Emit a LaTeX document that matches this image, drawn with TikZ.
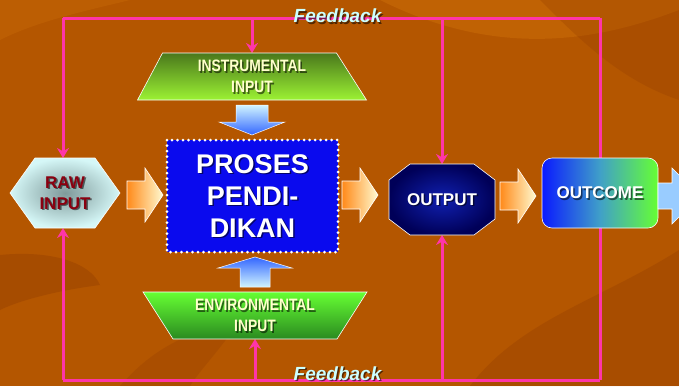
\documentclass[tikz,border=0pt]{standalone}
\usepackage{fontspec}
\setmainfont{Liberation Sans}
\newfontfamily\narrowfont[FakeStretch=0.84]{Liberation Sans}
\usetikzlibrary{arrows.meta,calc}
\definecolor{bg}{HTML}{B45600}
\definecolor{bgdark}{HTML}{8E3A00}
\definecolor{bglight}{HTML}{C86A08}
\definecolor{fbpink}{HTML}{FF35A8}
\definecolor{instrTop}{HTML}{4A781C}
\definecolor{instrBot}{HTML}{9CF233}
\definecolor{envTop}{HTML}{66FF33}
\definecolor{envBot}{HTML}{2A8A20}
\definecolor{prosesBlue}{HTML}{0A0AEE}
\definecolor{outOuter}{HTML}{000058}
\definecolor{outInner}{HTML}{1020B0}
\definecolor{ocLeft}{HTML}{0A1AFF}
\definecolor{ocMid}{HTML}{40A0C8}
\definecolor{ocRight}{HTML}{66FF33}
\definecolor{rawOuter}{HTML}{D5F7F7}
\definecolor{rawInner}{HTML}{7F9A9A}
\definecolor{orA}{HTML}{FF8A1A}
\definecolor{orB}{HTML}{FFFAD0}
\definecolor{blA}{HTML}{D0F4FF}
\definecolor{blB}{HTML}{3366FF}
\definecolor{lblue}{HTML}{99CCFF}
\definecolor{fbtext}{HTML}{CCFFFF}
\definecolor{cream}{HTML}{FFFFCC}
\definecolor{rawred}{HTML}{8A0010}
\begin{document}
\begin{tikzpicture}[x=1pt,y=-1pt,
  frame/.style={inner sep=0pt, outer sep=0pt},
  fb/.style={draw=fbpink, line width=3pt},
  fbarrow/.style={fb, -{Stealth[length=10pt,width=12pt]}},
  shadowtxt/.style={text=black, opacity=.55},
  bigtxt/.style={font=\fontsize{17}{21}\selectfont\bfseries, align=center},
  trapztxt/.style={font=\narrowfont\fontsize{16.5}{21}\selectfont\bfseries, align=center},
  fbtxt/.style={font=\fontsize{19}{22}\selectfont\bfseries\itshape}]
\useasboundingbox (0,0) rectangle (679,386);
\clip (0,0) rectangle (679,386);
% background
\fill[bg] (0,0) rectangle (679,386);
\fill[bglight, opacity=.6] (380,0) .. controls (500,60) and (600,40) .. (679,10) -- (679,0) -- cycle;
\fill[bgdark, opacity=.35] (0,255) .. controls (50,250) and (90,262) .. (100,285) .. controls (60,290) and (20,300) .. (0,310) -- cycle;
\fill[bgdark, opacity=.3] (470,386) .. controls (520,320) and (600,300) .. (679,250) -- (679,386) -- cycle;
\fill[bgdark, opacity=.25] (540,0) .. controls (580,40) and (620,80) .. (679,100) -- (679,0) -- cycle;
\fill[bglight, opacity=.4] (0,40) .. controls (40,20) and (90,10) .. (130,0) -- (0,0) -- cycle;
\fill[bgdark, opacity=.25] (120,386) .. controls (160,340) and (200,330) .. (240,320) .. controls (220,350) and (200,370) .. (190,386) -- cycle;

% frames
\node[frame, minimum width=110pt, minimum height=70pt] (raw) at (65,193) {};
\node[frame, minimum width=171pt, minimum height=112pt] (proses) at (252.5,196) {};
\node[frame, minimum width=229pt, minimum height=47pt] (instr) at (252,76.5) {};
\node[frame, minimum width=224pt, minimum height=47pt] (env) at (255,315.5) {};
\node[frame, minimum width=106pt, minimum height=71pt] (output) at (442,199.5) {};
\node[frame, minimum width=116pt, minimum height=70pt] (outcome) at (600,193) {};
\coordinate (tl) at (63,18);
\coordinate (tr) at (600,18);
\coordinate (bl) at (63,380);
\coordinate (br) at (600,380);

% feedback lines
\draw[fb] (tl) -- (tr);
\draw[fb] (bl) -- (br);
\draw[fbarrow] (tl) -- (tl |- raw.north);
\draw[fbarrow] (instr.north |- tl) -- (instr.north);
\draw[fbarrow] (output.north |- tl) -- (output.north);
\draw[fb] (tr) -- (outcome.north);
\draw[fb] (outcome.south) -- (br);
\draw[fbarrow] (bl) -- (bl |- raw.south);
\draw[fbarrow] (env.south |- bl) -- (env.south);
\draw[fbarrow] (output.south |- bl) -- (output.south);

% raw input hexagon
\shade[inner color=rawInner, outer color=rawOuter, draw=white, line width=.6pt]
  (raw.west) -- ($(raw.north west)+(25,0)$) -- ($(raw.north east)+(-25,0)$) -- (raw.east)
  -- ($(raw.south east)+(-25,0)$) -- ($(raw.south west)+(25,0)$) -- cycle;
% instrumental trapezoid
\shade[top color=instrTop, bottom color=instrBot, draw=white, line width=.6pt]
  ($(instr.north west)+(25,0)$) -- ($(instr.north east)+(-30,0)$) -- (instr.south east) -- (instr.south west) -- cycle;
% environmental trapezoid
\shade[top color=envTop, bottom color=envBot, draw=white, line width=.6pt]
  (env.north west) -- (env.north east) -- ($(env.south east)+(-30,0)$) -- ($(env.south west)+(30,0)$) -- cycle;
% proses box
\fill[prosesBlue] (proses.north west) rectangle (proses.south east);
\draw[white, line width=3pt, line cap=round, dash pattern=on 0pt off 5.5pt] (proses.north west) rectangle (proses.south east);
% output octagon
\shade[inner color=outInner, outer color=outOuter, draw=white, line width=.6pt]
  ($(output.north west)+(21,0)$) -- ($(output.north east)+(-21,0)$) -- ($(output.north east)+(0,16)$)
  -- ($(output.south east)+(0,-16)$) -- ($(output.south east)+(-21,0)$) -- ($(output.south west)+(21,0)$)
  -- ($(output.south west)+(0,-16)$) -- ($(output.north west)+(0,16)$) -- cycle;
% outcome
\shade[left color=ocLeft, right color=ocRight, middle color=ocMid, draw=white, line width=.6pt, rounded corners=10pt]
  (outcome.north west) rectangle (outcome.south east);

% block arrows
\foreach \cx/\cy in {127/195, 342/195, 500/196}{
  \shade[shift={(\cx,\cy)}, left color=orA, right color=orB, draw=white, line width=.6pt]
    (0,-14) -- (18,-14) -- (18,-27) -- (36,0) -- (18,27) -- (18,14) -- (0,14) -- cycle;
}
\fill[lblue, draw=white, line width=.6pt, shift={(658,196)}]
  (0,-13) -- (14,-13) -- (14,-28) -- (42,0) -- (14,28) -- (14,13) -- (0,13) -- cycle;
\shade[shift={(252,105)}, top color=blA, bottom color=blB, draw=white, line width=.5pt]
  (-16,0) -- (16,0) -- (16,17) -- (33,17) -- (0,30) -- (-33,17) -- (-16,17) -- cycle;
\shade[shift={(255,287)}, top color=blB, bottom color=blA, draw=white, line width=.5pt]
  (-15,0) -- (15,0) -- (15,-19) -- (37,-19) -- (0,-30) -- (-37,-19) -- (-15,-19) -- cycle;

% texts
\node[bigtxt, shadowtxt] (rawS) at ($(raw.center)+(1.5,1.5)$) {RAW\\INPUT};
\node[bigtxt, text=rawred] (rawT) at (raw.center) {RAW\\INPUT};
\node[font=\fontsize{27}{32}\selectfont\bfseries, align=center, shadowtxt] (prosesS) at ($(proses.center)+(1.5,1.5)$) {PROSES\\PENDI-\\DIKAN};
\node[font=\fontsize{27}{32}\selectfont\bfseries, align=center, text=white] (prosesT) at (proses.center) {PROSES\\PENDI-\\DIKAN};
\node[trapztxt, shadowtxt] (instrS) at ($(instr.center)+(1.5,1.5)$) {INSTRUMENTAL\\INPUT};
\node[trapztxt, text=cream] (instrT) at (instr.center) {INSTRUMENTAL\\INPUT};
\node[trapztxt, shadowtxt] (envS) at ($(env.center)+(1.5,1.5)$) {ENVIRONMENTAL\\INPUT};
\node[trapztxt, text=cream] (envT) at (env.center) {ENVIRONMENTAL\\INPUT};
\node[bigtxt, shadowtxt] (outputS) at ($(output.center)+(1.5,1.5)$) {OUTPUT};
\node[bigtxt, text=white] (outputT) at (output.center) {OUTPUT};
\node[bigtxt, shadowtxt] (outcomeS) at ($(outcome.center)+(1.5,1.5)$) {OUTCOME};
\node[bigtxt, text=white] (outcomeT) at (outcome.center) {OUTCOME};
\node[fbtxt, shadowtxt] (fbtopS) at (339,17.5) {Feedback};
\node[fbtxt, text=fbtext] (fbtop) at (337.5,16) {Feedback};
\node[fbtxt, shadowtxt] (fbbotS) at (339,375) {Feedback};
\node[fbtxt, text=fbtext] (fbbot) at (337.5,373.5) {Feedback};
\end{tikzpicture}
\end{document}
